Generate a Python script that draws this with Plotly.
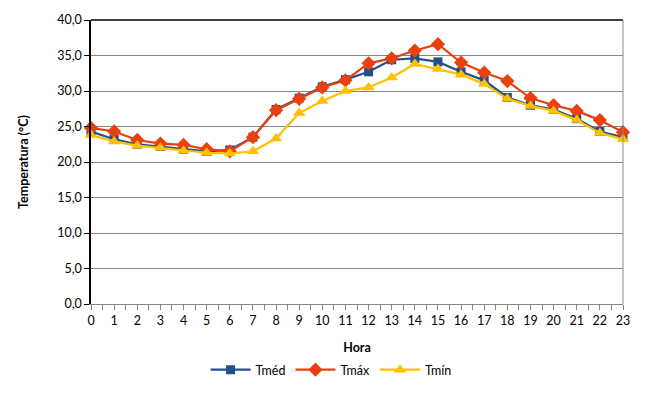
import plotly.graph_objects as go

horas = list(range(24))
t_med = [24.3, 23.2, 22.5, 22.2, 21.8, 21.5, 21.7, 23.5, 27.4, 29.0, 30.6, 31.6,
         32.7, 34.4, 34.6, 34.1, 32.7, 31.5, 29.1, 28.0, 27.4, 26.1, 24.3, 23.5]
t_max = [24.8, 24.3, 23.1, 22.6, 22.4, 21.8, 21.5, 23.5, 27.3, 28.9, 30.5, 31.5,
         33.9, 34.6, 35.7, 36.6, 34.0, 32.6, 31.4, 29.0, 28.0, 27.2, 25.9, 24.2]
t_min = [23.8, 22.9, 22.3, 22.0, 21.6, 21.3, 21.2, 21.5, 23.3, 26.9, 28.6, 30.0,
         30.5, 31.9, 33.8, 33.1, 32.3, 31.0, 28.9, 27.9, 27.2, 25.9, 24.1, 23.2]
y_ticks = [0, 5, 10, 15, 20, 25, 30, 35, 40]

FONT = "Lato, Open Sans, sans-serif"
series = [
    ("Tméd", t_med, "#24508A", "square", 9),
    ("Tmáx", t_max, "#E8400E", "diamond", 11),
    ("Tmín", t_min, "#FFC000", "triangle-up", 11),
]

fig = go.Figure()
for name, vals, col, sym, sz in series:
    fig.add_trace(go.Scatter(x=horas, y=vals, mode="lines+markers", name=name,
        line=dict(color=col, width=2.2),
        marker=dict(symbol=sym, size=sz, color=col),
        cliponaxis=False))

fig.update_xaxes(range=[0, 23], tickvals=horas, ticktext=[str(h) for h in horas],
    ticks="outside", ticklen=5, tickcolor="#868686", automargin=False,
    minor=dict(ticks="outside", dtick=0.5, tick0=0, ticklen=5, tickcolor="#868686"),
    showgrid=False, showline=True, linecolor="#868686", linewidth=1,
    zeroline=False, tickfont=dict(size=12.5, color="black", family=FONT),
    title=dict(text="<b>Hora</b>", font=dict(size=12.5, color="black", family=FONT), standoff=16))
fig.update_yaxes(range=[0, 40], tickvals=y_ticks, tickformat=".1f",
    ticks="outside", ticklen=5, tickcolor="black", automargin=False,
    showgrid=True, gridcolor="#868686", gridwidth=1,
    showline=True, linecolor="black", linewidth=1.5, zeroline=False,
    tickfont=dict(size=12.5, color="black", family=FONT),
    title=dict(text="<b>Temperatura (°C)</b>", font=dict(size=12.5, color="black", family=FONT), standoff=26))

# plot-area border: black top, grey right
fig.add_shape(type="line", xref="paper", yref="paper", x0=0, x1=1, y0=1, y1=1,
    line=dict(color="black", width=1.5))
fig.add_shape(type="line", xref="paper", yref="paper", x0=1, x1=1, y0=0, y1=1,
    line=dict(color="#868686", width=1))

# page body has an 8px margin, so the figure is a little smaller than the window
fig.update_layout(width=654, height=397, separators=",.",
    plot_bgcolor="white", paper_bgcolor="white",
    margin=dict(l=83, r=39, t=12, b=101),
    font=dict(family=FONT, color="black"),
    legend=dict(orientation="h", xref="container", yref="container",
        x=0.494, xanchor="center", y=0.088, yanchor="middle",
        font=dict(size=12.5, color="black", family=FONT),
        itemwidth=40, tracegroupgap=0),
    showlegend=True)

fig.write_html("out.html")
